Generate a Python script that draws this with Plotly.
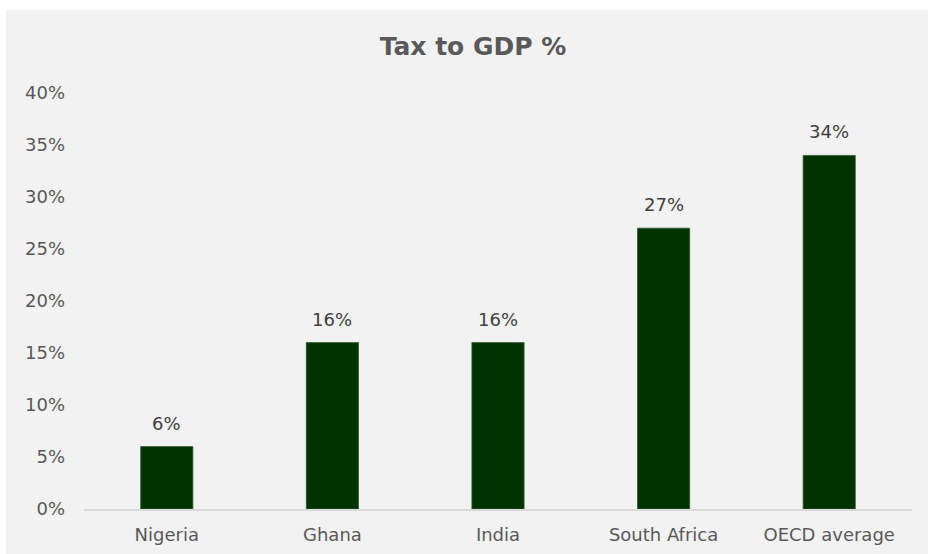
import plotly.graph_objects as go

categories = ["Nigeria", "Ghana", "India", "South Africa", "OECD average"]
values = [6, 16, 16, 27, 34]
labels = ["6%", "16%", "16%", "27%", "34%"]
tick_vals = [0, 5, 10, 15, 20, 25, 30, 35, 40]
tick_text = ["0%", "5%", "10%", "15%", "20%", "25%", "30%", "35%", "40%"]

W, H = 928, 554
ml, mr, mt, mb = 84, 16, 93, 45

fig = go.Figure(go.Bar(
    x=categories, y=values,
    marker=dict(color="#003300", line=dict(color="#2e5a2e", width=0.8)),
    width=0.315,
))

for c, v, t in zip(categories, values, labels):
    fig.add_annotation(x=c, y=v, text=t, showarrow=False, yanchor="bottom",
                       yshift=11, font=dict(size=18, color="#404040", family="DejaVu Sans"))

pw = W - ml - mr
ph = H - mt - mb
fig.add_shape(type="rect", xref="paper", yref="paper",
              x0=(6 - ml) / pw, x1=(W + 4 - ml) / pw,
              y0=(-mb - 4) / ph, y1=(H - 10 - mb) / ph,
              fillcolor="#f2f2f2", line=dict(width=0), layer="below")

fig.update_layout(
    width=W, height=H,
    margin=dict(l=ml, r=mr, t=mt, b=mb, pad=0, autoexpand=False),
    paper_bgcolor="white", plot_bgcolor="rgba(0,0,0,0)",
    font=dict(family="DejaVu Sans", color="#595959", size=18),
    title=dict(text="<b>Tax to GDP %</b>", x=(473 - ml) / pw, xref="paper", xanchor="center",
               y=1 - 46 / H, yanchor="middle", font=dict(size=25, color="#595959")),
    showlegend=False,
    xaxis=dict(showline=True, linecolor="#d9d9d9", linewidth=2, ticks="",
               ticklabelstandoff=8, automargin=False,
               tickfont=dict(size=18, color="#595959"), showgrid=False),
    yaxis=dict(range=[0, 40], tickvals=tick_vals, ticktext=tick_text,
               showgrid=False, zeroline=False, showline=False, ticks="",
               ticklabelstandoff=18, automargin=False,
               tickfont=dict(size=18, color="#595959")),
)
fig.write_html("out.html")
